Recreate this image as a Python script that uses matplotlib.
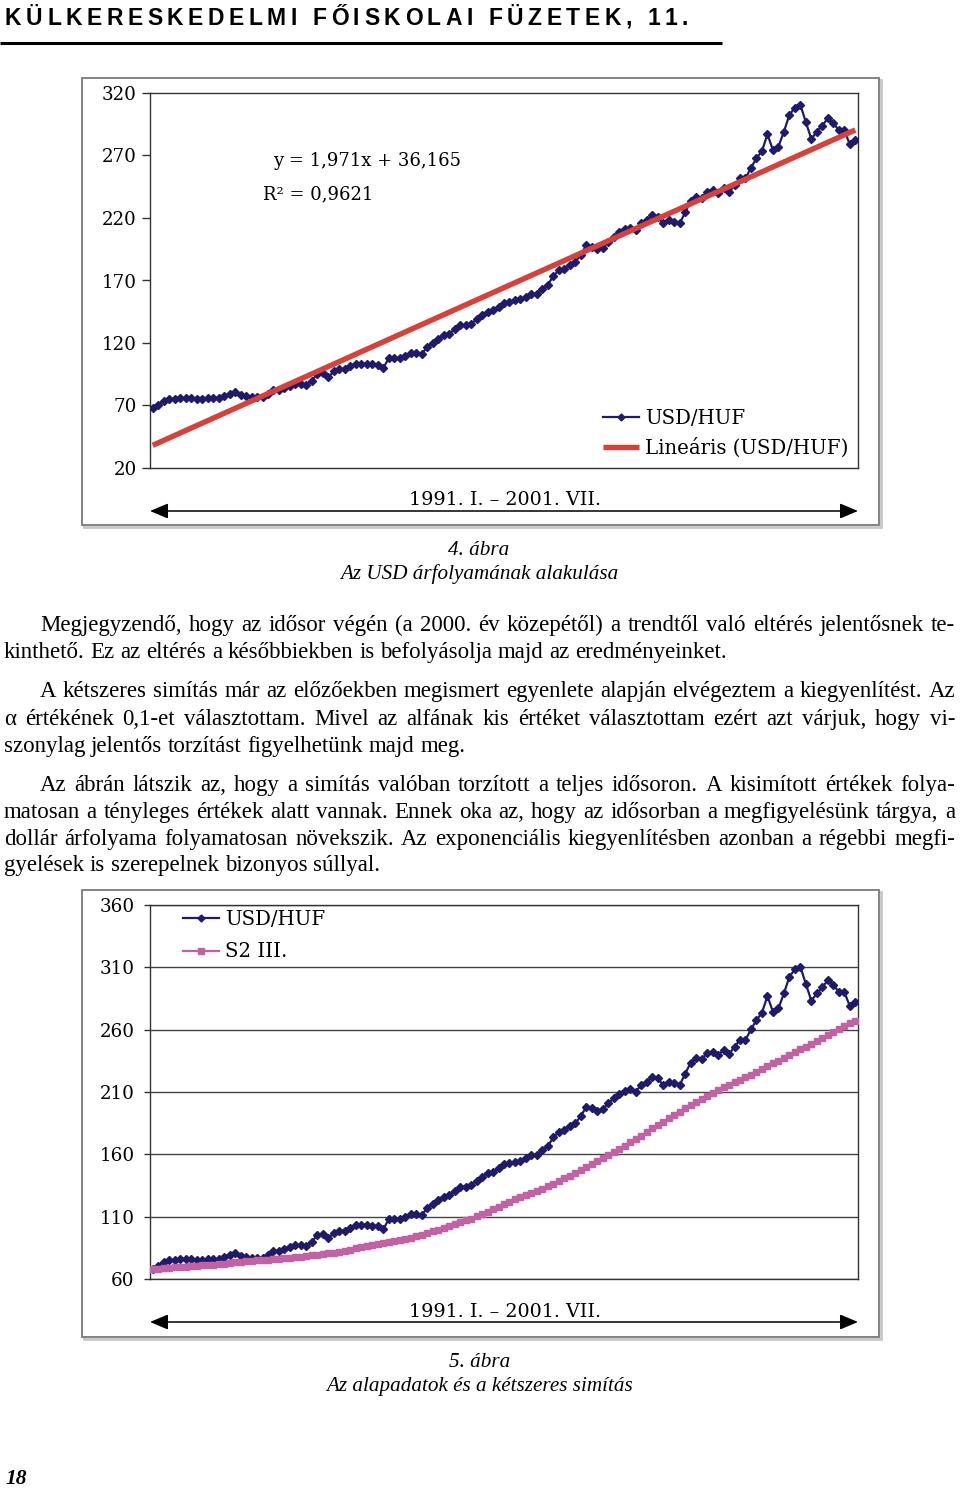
import matplotlib
matplotlib.use("Agg")
import matplotlib.pyplot as plt
import numpy as np
from matplotlib.patches import Rectangle

# ---------------- data ----------------
usd_huf = [67.7, 70.4, 73.9, 75.2, 75.2, 76.0, 76.0, 76.0, 75.0, 75.2,
           76.0, 76.0, 76.0, 77.9, 79.2, 80.6, 78.4, 77.4, 77.1, 76.6,
           76.6, 79.2, 82.5, 82.5, 83.8, 85.9, 87.3, 87.3, 86.7, 89.9,
           95.3, 96.1, 92.6, 97.2, 98.8, 98.8, 101.2, 103.3, 103.3, 103.3,
           102.8, 102.5, 99.8, 107.9, 107.9, 107.9, 109.5, 111.9, 111.9, 111.3,
           116.7, 120.1, 123.4, 126.0, 127.4, 130.8, 134.0, 134.0, 135.4, 138.8,
           142.0, 144.7, 146.0, 148.8, 152.2, 152.8, 154.1, 154.9, 156.8, 159.4,
           159.4, 163.4, 166.7, 173.6, 178.2, 179.5, 182.7, 184.9, 190.7, 198.2,
           196.9, 195.0, 196.1, 200.9, 204.9, 208.4, 211.0, 212.1, 210.2, 215.6,
           218.2, 222.2, 220.9, 215.6, 218.2, 216.9, 215.6, 224.4, 233.5, 237.0,
           236.2, 241.0, 242.3, 239.6, 243.6, 240.4, 246.3, 251.7, 251.7, 260.2,
           267.7, 273.6, 286.9, 274.4, 277.1, 289.1, 302.4, 308.4, 310.5, 296.6,
           283.2, 289.1, 293.9, 299.8, 295.8, 290.4, 290.4, 278.9, 282.4]

s2_iii = [68.0, 68.3, 68.7, 69.0, 69.4, 69.7, 70.0, 70.3, 70.6, 70.9,
          71.2, 71.6, 72.0, 72.4, 72.9, 73.4, 73.9, 74.2, 74.5, 74.9,
          75.2, 75.5, 75.8, 76.2, 76.6, 77.0, 77.4, 77.8, 78.4, 79.0,
          79.5, 80.1, 80.6, 81.2, 81.9, 82.7, 83.6, 84.5, 85.4, 86.3,
          87.3, 88.0, 88.6, 89.3, 90.2, 91.1, 91.9, 92.8, 94.4, 95.6,
          97.0, 98.3, 99.6, 101.0, 102.5, 104.0, 105.5, 107.0, 108.5, 110.2,
          111.8, 113.8, 115.8, 117.8, 119.8, 121.8, 123.8, 125.6, 127.4, 129.1,
          130.8, 132.5, 134.2, 136.3, 138.5, 140.7, 142.9, 145.1, 147.4, 149.8,
          152.2, 154.6, 157.0, 159.5, 162.1, 164.5, 167.0, 169.6, 172.2, 175.0,
          177.8, 180.8, 183.5, 186.2, 188.9, 191.6, 194.3, 197.0, 199.5, 201.9,
          204.3, 206.8, 209.3, 211.8, 213.8, 215.8, 217.8, 219.8, 221.8, 223.8,
          226.0, 228.3, 230.6, 232.9, 235.1, 237.3, 239.6, 241.9, 244.1, 246.3,
          248.5, 250.7, 253.1, 255.6, 258.0, 260.5, 263.0, 265.3, 267.3]

trend_slope = 1.971
trend_intercept = 36.165
trend_equation = "y = 1,971x + 36,165"
trend_r2 = "R² = 0,9621"

y_ticks_1 = [20, 70, 120, 170, 220, 270, 320]
y_ticks_2 = [60, 110, 160, 210, 260, 310, 360]
period_label = "1991. I. – 2001. VII."
legend_1 = ["USD/HUF", "Lineáris (USD/HUF)"]
legend_2 = ["USD/HUF", "S2 III."]

header = "KÜLKERESKEDELMI FŐISKOLAI FÜZETEK, 11."
caption_1 = ["4. ábra", "Az USD árfolyamának alakulása"]
caption_2 = ["5. ábra", "Az alapadatok és a kétszeres simítás"]
page_number = "18"

paragraphs = [
    ["Megjegyzendő, hogy az idősor végén (a 2000. év közepétől) a trendtől való eltérés jelentősnek te-",
     "kinthető. Ez az eltérés a későbbiekben is befolyásolja majd az eredményeinket."],
    ["A kétszeres simítás már az előzőekben megismert egyenlete alapján elvégeztem a kiegyenlítést. Az",
     "α értékének 0,1-et választottam. Mivel az alfának kis értéket választottam ezért azt várjuk, hogy vi-",
     "szonylag jelentős torzítást figyelhetünk majd meg."],
    ["Az ábrán látszik az, hogy a simítás valóban torzított a teljes idősoron. A kisimított értékek folya-",
     "matosan a tényleges értékek alatt vannak. Ennek oka az, hogy az idősorban a megfigyelésünk tárgya, a",
     "dollár árfolyama folyamatosan növekszik. Az exponenciális kiegyenlítésben azonban a régebbi megfi-",
     "gyelések is szerepelnek bizonyos súllyal."],
]
para_baselines = [[631, 658], [697, 725, 752], [791, 818, 845, 871]]

# ---------------- style ----------------
BLUE = "#1f1a6b"
RED = "#d8403a"
PINK = "#c262a4"
SPINE = "#333333"
CHART_FONT = "DejaVu Serif"
BODY_FONT = "Liberation Serif"

W, H = 960, 1488
fig = plt.figure(figsize=(W / 100, H / 100), dpi=100)
page = fig.add_axes([0, 0, 1, 1], zorder=0)
page.set_xlim(0, W)
page.set_ylim(H, 0)
page.axis("off")
renderer = fig.canvas.get_renderer()


def fig_axes(x0, y0, x1, y1):
    return fig.add_axes([x0 / W, 1 - y1 / H, (x1 - x0) / W, (y1 - y0) / H], zorder=2)


def text_width(s, **kw):
    t = page.text(0, 0, s, **kw)
    w = t.get_window_extent(renderer).width
    t.remove()
    return w


# ---------------- header ----------------
hkw = dict(family="Liberation Sans", weight="bold", fontsize=16.5)
cw = [text_width(c, **hkw) if c != " " else text_width("a a", **hkw) - text_width("aa", **hkw) for c in header]
x_start, x_end = 5, 688
extra = (x_end - x_start - sum(cw)) / (len(header) - 1)
xx = x_start
for c, w in zip(header, cw):
    if c != " ":
        page.text(xx, 25, c, ha="left", va="baseline", color="black", **hkw)
    xx += w + extra
page.plot([0, 722], [43, 43], color="black", lw=2.2, solid_capstyle="butt")

# ---------------- chart boxes ----------------
for (bx0, by0, bx1, by1) in [(82, 78, 879, 525), (82, 890, 879, 1337)]:
    page.add_patch(Rectangle((bx0 + 2, by0 + 2), bx1 - bx0, by1 - by0, facecolor="none",
                             edgecolor="#c8c8c8", lw=2.0))
    page.add_patch(Rectangle((bx0, by0), bx1 - bx0, by1 - by0, facecolor="white",
                             edgecolor="#7a7a7a", lw=1.3))

x = np.arange(1, len(usd_huf) + 1)

# ---------------- chart 1 ----------------
ax1 = fig_axes(150, 93, 858, 468)
ax1.plot(x, usd_huf, color=BLUE, lw=1.6, marker="D", ms=4.4, mec=BLUE, mfc=BLUE,
         label=legend_1[0], zorder=3)
ax1.plot(x, trend_slope * x + trend_intercept, color=RED, lw=3.9,
         label=legend_1[1], zorder=4, solid_capstyle="butt")
ax1.set_xlim(0.5, len(usd_huf) + 0.5)
ax1.set_ylim(y_ticks_1[0], y_ticks_1[-1])
ax1.set_yticks(y_ticks_1)
ax1.set_xticks([])
ax1.tick_params(axis="y", direction="out", length=6, width=1, color=SPINE, pad=3.5,
                labelsize=13.2)
for lab in ax1.get_yticklabels():
    lab.set_family(CHART_FONT)
for sp in ax1.spines.values():
    sp.set_color(SPINE)
    sp.set_linewidth(1.0)
ax1.text(273, 161, trend_equation, transform=page.transData, family=CHART_FONT,
         fontsize=13, ha="left", va="center")
ax1.text(263, 194, trend_r2, transform=page.transData, family=CHART_FONT,
         fontsize=13, ha="left", va="center")
ax1.legend(loc="upper left", bbox_to_anchor=(603, 409), bbox_transform=page.transData,
           frameon=False, prop=dict(family=CHART_FONT, size=14.2), borderpad=0,
           handlelength=1.85, handletextpad=0.3, labelspacing=0.48, borderaxespad=0,
           markerscale=0.8)

# axis arrow + period text (chart 1)
page.annotate("", xy=(858, 511), xytext=(150, 511),
              arrowprops=dict(arrowstyle="<|-|>,head_length=1.0,head_width=0.42",
                              color="black", lw=1.1, shrinkA=0, shrinkB=0,
                              mutation_scale=11))
page.text(505, 505, period_label, family=CHART_FONT, fontsize=13.8, ha="center", va="baseline")

# ---------------- chart 2 ----------------
ax2 = fig_axes(150, 905, 858, 1279)
ax2.plot(x, usd_huf, color=BLUE, lw=1.6, marker="D", ms=4.4, mec=BLUE, mfc=BLUE,
         label=legend_2[0], zorder=3)
ax2.plot(x, s2_iii, color=PINK, lw=1.6, marker="s", ms=4.8, mec=PINK, mfc=PINK,
         label=legend_2[1], zorder=4)
ax2.set_xlim(0.5, len(usd_huf) + 0.5)
ax2.set_ylim(y_ticks_2[0], y_ticks_2[-1])
ax2.set_yticks(y_ticks_2)
ax2.set_xticks([])
ax2.grid(axis="y", color="#444444", lw=1.0)
ax2.set_axisbelow(True)
ax2.tick_params(axis="y", direction="out", length=4, width=1, color=SPINE, pad=7,
                labelsize=13.2)
for lab in ax2.get_yticklabels():
    lab.set_family(CHART_FONT)
for sp in ax2.spines.values():
    sp.set_color(SPINE)
    sp.set_linewidth(1.0)
ax2.legend(loc="upper left", bbox_to_anchor=(183, 910), bbox_transform=page.transData,
           frameon=False, prop=dict(family=CHART_FONT, size=14.2), borderpad=0,
           handlelength=1.8, handletextpad=0.35, labelspacing=0.68, borderaxespad=0,
           markerscale=0.8)

page.annotate("", xy=(858, 1322), xytext=(150, 1322),
              arrowprops=dict(arrowstyle="<|-|>,head_length=1.0,head_width=0.42",
                              color="black", lw=1.1, shrinkA=0, shrinkB=0,
                              mutation_scale=11))
page.text(505, 1317, period_label, family=CHART_FONT, fontsize=13.8, ha="center", va="baseline")

# ---------------- captions ----------------
ckw = dict(family=BODY_FONT, style="italic", fontsize=15.2, ha="center", va="baseline")
page.text(479, 555, caption_1[0], **ckw)
page.text(479, 579, caption_1[1], **ckw)
page.text(480, 1367, caption_2[0], **ckw)
page.text(480, 1391, caption_2[1], **ckw)

# ---------------- body text (justified) ----------------
bkw = dict(family=BODY_FONT, fontsize=16.5)
space_w = text_width("a a", **bkw) - text_width("aa", **bkw)
LEFT, RIGHT, INDENT = 4, 955, 36


def draw_line(s, y, x0, justify):
    words = s.split(" ")
    widths = [text_width(wd, **bkw) for wd in words]
    if justify and len(words) > 1:
        gap = (RIGHT - x0 - sum(widths)) / (len(words) - 1)
    else:
        gap = space_w
    xx = x0
    for wd, w in zip(words, widths):
        page.text(xx, y, wd, ha="left", va="baseline", color="black", **bkw)
        xx += w + gap


for lines, ys in zip(paragraphs, para_baselines):
    for k, (s, y) in enumerate(zip(lines, ys)):
        x0 = LEFT + INDENT if k == 0 else LEFT
        draw_line(s, y, x0, justify=(k < len(lines) - 1))

# ---------------- page number ----------------
page.text(5, 1484, page_number, family=BODY_FONT, style="italic", weight="bold",
          fontsize=15.5, ha="left", va="baseline")

fig.savefig("out.png", dpi=100, facecolor="white")
